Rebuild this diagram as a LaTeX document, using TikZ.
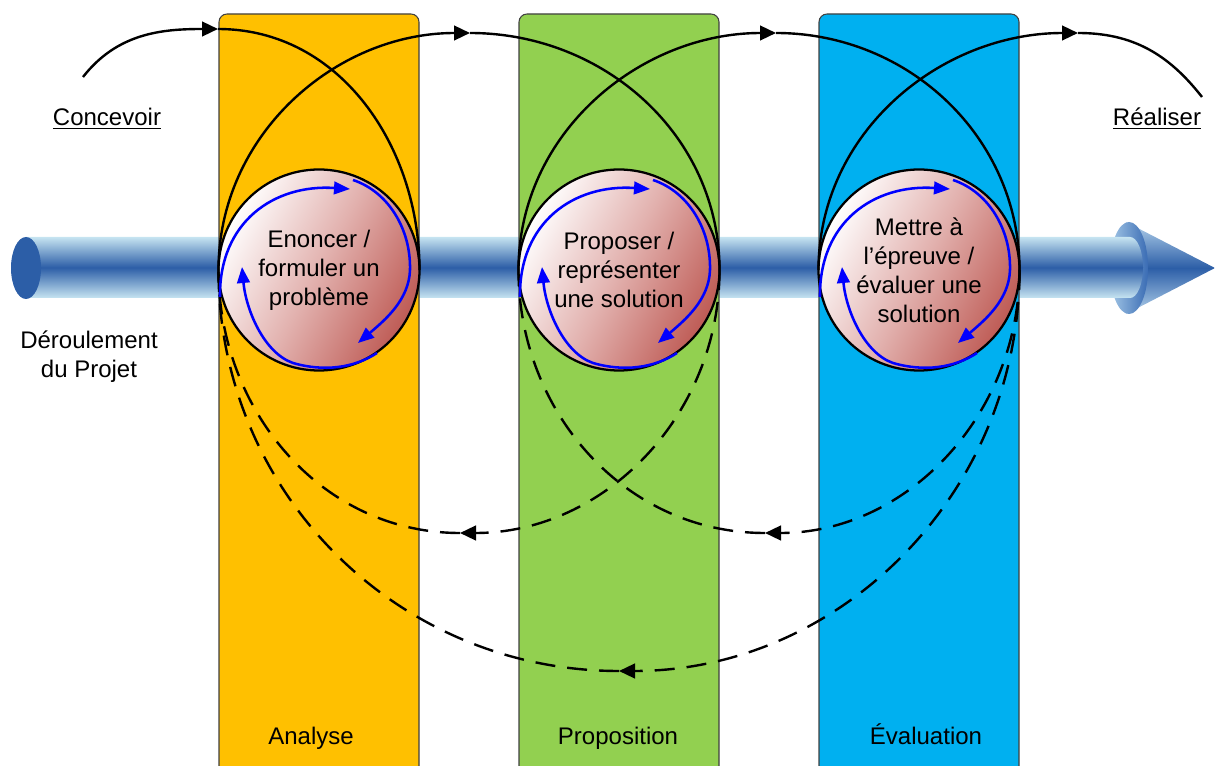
\documentclass[tikz,border=0pt]{standalone}
\usepackage{fontspec}
\setmainfont{Liberation Sans}
\usepackage{tikz}
\usetikzlibrary{positioning,arrows.meta}

\definecolor{analysecol}{HTML}{FFC000}
\definecolor{propcol}{HTML}{92D050}
\definecolor{evalcol}{HTML}{00B0F0}
\definecolor{tubedark}{HTML}{2C5EA7}
\definecolor{tubelight}{HTML}{C6E4F1}
\definecolor{conelight}{HTML}{B3D2EC}
\definecolor{rimlight}{HTML}{A3C7E6}
\definecolor{rimdark}{HTML}{3A6CB4}
\definecolor{rose}{HTML}{BE5B55}
\definecolor{rosemid}{HTML}{E2B1AE}

\begin{document}
\begin{tikzpicture}[
	x=0.75pt, y=0.75pt,
	txt/.style={font=\fontsize{18}{21.75}\selectfont, align=center},
	colbox/.style={draw=black!75, line width=0.8pt, rounded corners=6pt},
	stage/.style={
	  circle,
	  draw,
	  line width=1.7pt,
	  minimum size=150.75pt,
	  inner sep=0pt,
	  outer sep=0pt,
	  left color=white,
	  right color=rose,
	  middle color=rosemid,
	  shading angle=62,
	  txt
	  },
	fwd/.style={line width=1.8pt},
	fwdtip/.style={fwd,-{Triangle[length=12pt,width=11pt]}},
	back/.style={line width=1.8pt, dash pattern=on 15pt off 9pt},
	backtip/.style={back,-{Triangle[length=12pt,width=11pt]}},
	cycletrace/.style={draw=blue, line width=1.9pt, -{Triangle[length=12pt,width=9.5pt]}}
	]
	\useasboundingbox (0,0) rectangle (1215,765);

	% axis of the project
	\shade[top color=conelight, bottom color=conelight, middle color=tubedark]
		(1126,543) -- (1215,497) -- (1126,451) -- cycle;
	\shade[left color=rimlight, right color=rimdark]
		(1129,497) ellipse [x radius=19, y radius=46];
	\shade[top color=tubelight, bottom color=tubelight, middle color=tubedark]
		(26,528) -- (1130,528) arc[start angle=90, end angle=-90, x radius=13, y radius=30.5] -- (26,467) -- cycle;
	\fill[tubedark] (26,497) ellipse [x radius=15, y radius=31];

	% phases
	\draw[colbox, fill=analysecol] (219,-20) rectangle (419,751);
	\draw[colbox, fill=propcol] (519,-20) rectangle (719,751);
	\draw[colbox, fill=evalcol] (819,-20) rectangle (1019,751);

	\node[stage] (enon) at (319,495) {Enoncer /\\formuler un\\problème};
	\node[stage] (prop) at (619,495) {Proposer /\\représenter\\une solution};
	\node[stage] (eval) at (919,495) {Mettre à\\l’épreuve /\\évaluer une\\solution};

	\coordinate (start0) at (83,688);
	\coordinate (crest0) at (218,736);
	\coordinate (crest1) at (470,732);
	\coordinate (crest2) at (776,732);
	\coordinate (crest3) at (1078,732);
	\coordinate (end3) at (1202,668);
	\coordinate (trough1) at (460,232);
	\coordinate (trough2) at (765,232);
	\coordinate (trough3) at (619,94);

	% forward arcs
	\draw[fwdtip] (start0) to[out=52,in=180] (crest0);
	\draw[fwd] (crest0) to[out=0,in=90] (enon.east);
	\draw[fwdtip] (enon.west) to[out=90,in=180] (crest1);
	\draw[fwd] (crest1) to[out=0,in=90] (prop.east);
	\draw[fwdtip] (prop.west) to[out=90,in=180] (crest2);
	\draw[fwd] (crest2) to[out=0,in=90] (eval.east);
	\draw[fwdtip] (eval.west) to[out=90,in=180] (crest3);
	\draw[fwd] (crest3) to[out=0,in=128] (end3);

	% backward arcs
	\draw[backtip] (prop.east) to[out=-90,in=0] (trough1);
	\draw[back] (trough1) to[out=180,in=-90] (enon.west);
	\draw[backtip] (eval.east) to[out=-90,in=0] (trough2);
	\draw[back] (trough2) to[out=180,in=-90] (prop.west);
	\draw[backtip] (eval.east) to[out=-90,in=0] (trough3);
	\draw[back] (trough3) to[out=180,in=-90] (enon.west);

	% loops inside each phase
	\foreach \s in {enon,prop,eval}{
		\begin{scope}[shift={(\s.center)}]
			\draw[cycletrace] (-99,-27) .. controls (-100,48) and (-45,86) .. (31,81);
			\draw[cycletrace] (34,90) .. controls (70,78) and (92,40) .. (91,0)
				.. controls (90,-30) and (66,-50) .. (39,-73);
			\draw[cycletrace] (58,-83) .. controls (35,-98) and (5,-102) .. (-26,-93)
				.. controls (-55,-83) and (-73,-40) .. (-77,3);
		\end{scope}
	}

	% labels
	\node[txt, anchor=base] (concevoir) at (107,639) {\underline{Concevoir}};
	\node[txt, anchor=base] (realiser) at (1157,639) {\underline{Réaliser}};
	\node[txt] (deroul) at (89,408) {Déroulement\\du Projet};
	\node[txt, anchor=base] (analyse) at (311,21) {Analyse};
	\node[txt, anchor=base] (proposition) at (618,21) {Proposition};
	\node[txt, anchor=base] (evaluation) at (926,21) {Évaluation};
\end{tikzpicture}
\end{document}
